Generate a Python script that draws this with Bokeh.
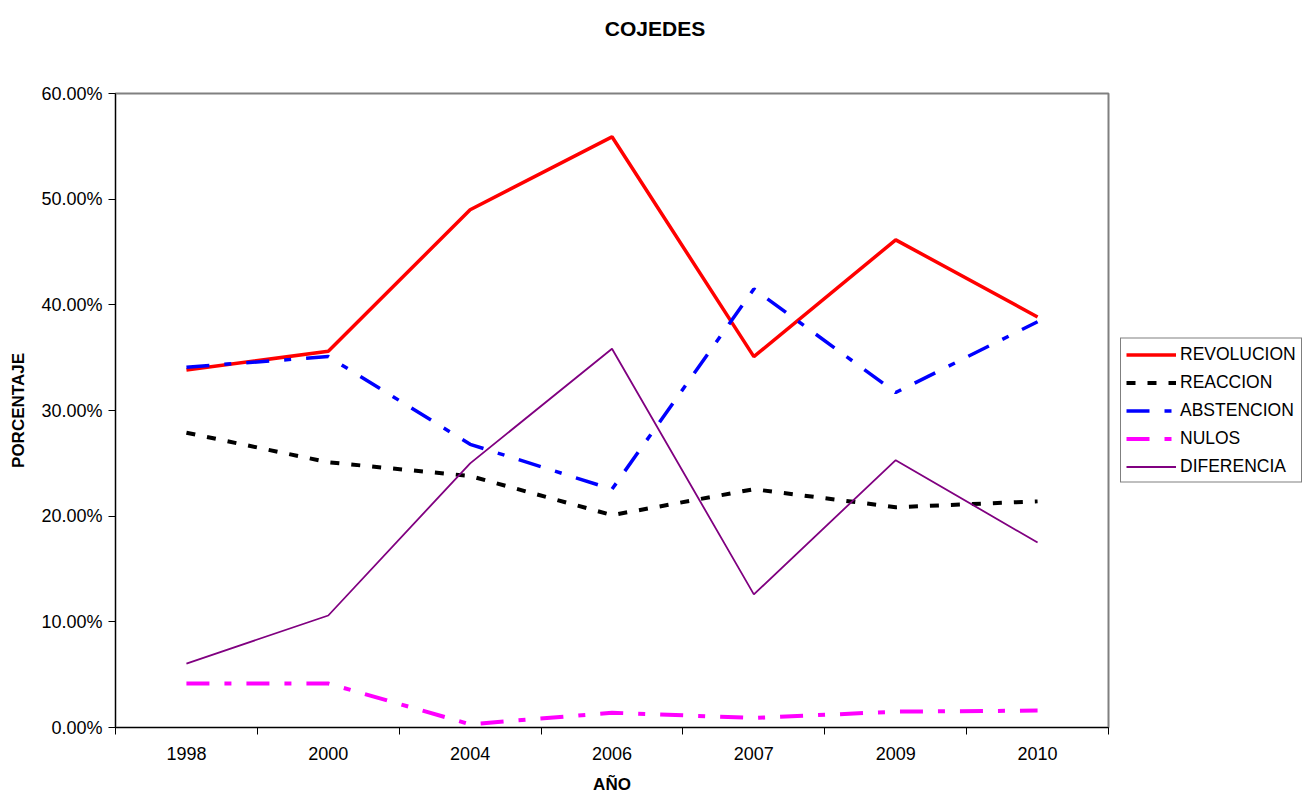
from bokeh.plotting import figure
from bokeh.models import (FactorRange, LinearAxis, FixedTicker, NumeralTickFormatter,
                          Legend, LegendItem, Range1d, Div)
from bokeh.layouts import column
from bokeh.embed import file_html
from bokeh.resources import INLINE

years = ["1998", "2000", "2004", "2006", "2007", "2009", "2010"]
revolucion = [0.3383, 0.3560, 0.4900, 0.5590, 0.3510, 0.4615, 0.3885]
reaccion = [0.2790, 0.2510, 0.2380, 0.2010, 0.2255, 0.2085, 0.2140]
abstencion = [0.3410, 0.3510, 0.2680, 0.2255, 0.4150, 0.3170, 0.3840]
nulos = [0.0416, 0.0416, 0.0030, 0.0140, 0.0090, 0.0150, 0.0160]
diferencia = [0.0605, 0.1060, 0.2500, 0.3585, 0.1260, 0.2530, 0.1750]
y_ticks = [0.0, 0.1, 0.2, 0.3, 0.4, 0.5, 0.6]
title_text = "COJEDES"

FONT = "Liberation Sans"

title_div = Div(text=title_text, width=1310, height=58, margin=0,
                styles={"text-align": "center", "font-weight": "bold", "font-size": "21px",
                        "font-family": FONT, "color": "black", "line-height": "58px"})

p = figure(x_range=FactorRange(*years), y_range=Range1d(0, 0.6),
           frame_width=993, frame_height=634,
           min_border_left=115, min_border_right=195, min_border_top=35, min_border_bottom=64,
           x_axis_type=None, output_backend="svg", toolbar_location=None,
           background_fill_color="white", border_fill_color="white")
p.outline_line_color = "#808080"
p.outline_line_width = 2
p.xgrid.visible = False
p.ygrid.visible = False

# y axis
ya = p.yaxis[0]
ya.ticker = FixedTicker(ticks=y_ticks, minor_ticks=[])
ya.formatter = NumeralTickFormatter(format="0.00%")
ya.axis_label = "PORCENTAJE"
ya.axis_label_text_font = FONT
ya.axis_label_text_font_style = "bold"
ya.axis_label_text_font_size = "17px"
ya.axis_label_text_color = "black"
ya.axis_label_standoff = 10
ya.major_label_text_font = FONT
ya.major_label_text_font_size = "18px"
ya.major_label_text_color = "black"
ya.major_label_standoff = 6
ya.major_tick_out = 7
ya.major_tick_in = 0
ya.minor_tick_line_color = None
ya.axis_line_color = "black"
ya.major_tick_line_color = "black"

# x axis: labels at category centres, tick marks at category boundaries
centres = [i + 0.5 for i in range(len(years))]
bounds = [float(i) for i in range(len(years) + 1)]
xa = LinearAxis(ticker=FixedTicker(ticks=centres, minor_ticks=bounds),
                major_label_overrides={c: y for c, y in zip(centres, years)})
xa.axis_label = "AÑO"
xa.axis_label_text_font = FONT
xa.axis_label_text_font_style = "bold"
xa.axis_label_text_font_size = "17px"
xa.axis_label_text_color = "black"
xa.axis_label_standoff = 12
xa.major_label_text_font = FONT
xa.major_label_text_font_size = "18px"
xa.major_label_text_color = "black"
xa.major_label_standoff = 12
xa.major_tick_line_color = None
xa.major_tick_out = 0
xa.major_tick_in = 0
xa.minor_tick_out = 7
xa.minor_tick_in = 0
xa.minor_tick_line_color = "black"
xa.axis_line_color = "black"
p.add_layout(xa, "below")

r1 = p.line(years, revolucion, line_color="#FF0000", line_width=3.5)
r2 = p.line(years, reaccion, line_color="black", line_width=4, line_dash="9 12")
r3 = p.line(years, abstencion, line_color="#0000FF", line_width=3.5, line_dash="23 15 7 15")
r4 = p.line(years, nulos, line_color="#FF00FF", line_width=4, line_dash="23 15 7 15")
r5 = p.line(years, diferencia, line_color="#800080", line_width=1.8)

legend = Legend(items=[LegendItem(label="REVOLUCION", renderers=[r1]),
                       LegendItem(label="REACCION", renderers=[r2]),
                       LegendItem(label="ABSTENCION", renderers=[r3]),
                       LegendItem(label="NULOS", renderers=[r4]),
                       LegendItem(label="DIFERENCIA", renderers=[r5])],
                location="center_left", orientation="vertical",
                label_text_font=FONT, label_text_font_size="17.5px", label_text_color="black",
                glyph_width=50, glyph_height=20, label_height=20, label_standoff=4,
                spacing=7, padding=5, margin=12,
                border_line_color="black", border_line_width=1,
                background_fill_color="white", background_fill_alpha=1)
p.add_layout(legend, "right")

layout = column(title_div, p, spacing=0)
open("out.html", "w").write(file_html(layout, INLINE))
